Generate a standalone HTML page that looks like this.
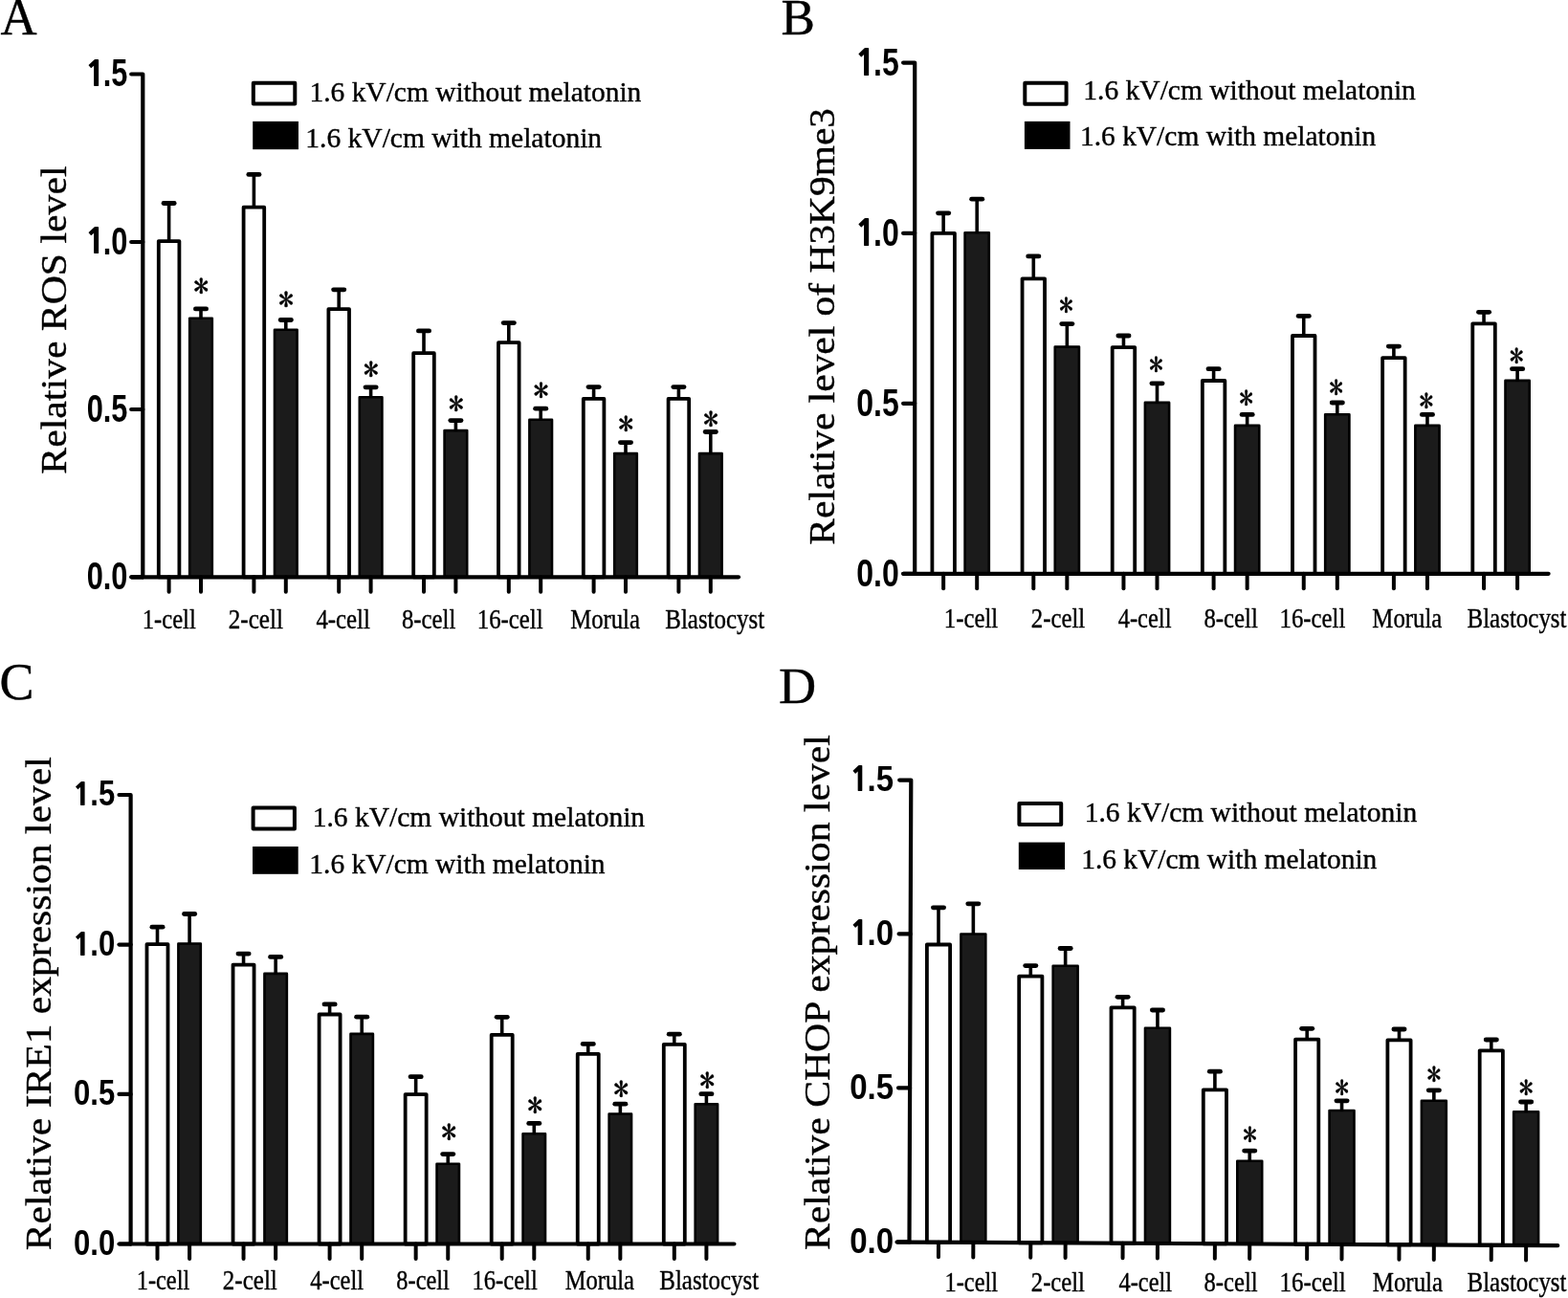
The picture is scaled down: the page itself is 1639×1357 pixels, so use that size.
<!DOCTYPE html>
<html><head><meta charset="utf-8"><title>Figure</title><style>
html,body{margin:0;padding:0;background:#fff;}
svg{display:block;}
.f1{font-family:"Liberation Serif","Times New Roman",serif;fill:#000;stroke:#000;stroke-width:0.4px;stroke-linejoin:round;}
.f2{font-family:"Liberation Sans",Arial,sans-serif;font-weight:bold;fill:#000;}
.f4{font-family:"NanumGothic","Liberation Sans",Arial,sans-serif;font-weight:800;fill:#000;}
.f5{font-family:"IPAGothic","Liberation Serif",serif;fill:#000;stroke:#000;stroke-width:0.5px;stroke-linejoin:round;}
.f3{font-family:"Liberation Sans",Arial,sans-serif;fill:#000;}
.bw{fill:#fff;stroke:#000;stroke-width:3.8;stroke-linejoin:round;}
.bb{fill:#1b1b1b;stroke:#000;stroke-width:2.6;stroke-linejoin:round;}
.eb{stroke:#000;stroke-width:3.6;}
.ec{stroke:#000;stroke-width:4.8;stroke-linecap:round;}
.xt{stroke:#000;stroke-width:4;stroke-linecap:round;}
.ax{fill:none;stroke:#000;stroke-width:4.2;stroke-linecap:round;stroke-linejoin:round;}
.lw{fill:#fff;stroke:#000;stroke-width:4;stroke-linejoin:round;}
.lb{fill:#000;}
</style></head>
<body><svg width="1639" height="1357" viewBox="0 0 1639 1357">
<rect width="1639" height="1357" fill="#fff"/>
<g id="panelA">
<text class="f1" transform="translate(0.57,36.3) scale(0.9782,1)" font-size="53.94">A</text>
<line x1="176.6" y1="252.2" x2="176.6" y2="212.5" class="eb"/>
<line x1="171" y1="212.5" x2="182.2" y2="212.5" class="ec"/>
<rect x="165.8" y="252.1" width="21.6" height="351.2" class="bw"/>
<line x1="176.6" y1="603.3" x2="176.6" y2="618.8" class="xt"/>
<line x1="210" y1="333.4" x2="210" y2="322.9" class="eb"/>
<line x1="204.4" y1="322.9" x2="215.6" y2="322.9" class="ec"/>
<rect x="198.2" y="332.7" width="23.6" height="270.6" class="bb"/>
<text class="f5" transform="translate(202.26,310.59) scale(0.9740,1)" font-size="33.00">*</text>
<line x1="210" y1="603.3" x2="210" y2="618.8" class="xt"/>
<line x1="265.4" y1="216.8" x2="265.4" y2="182.4" class="eb"/>
<line x1="259.8" y1="182.4" x2="271" y2="182.4" class="ec"/>
<rect x="254.6" y="216.7" width="21.6" height="386.6" class="bw"/>
<line x1="265.4" y1="603.3" x2="265.4" y2="618.8" class="xt"/>
<line x1="298.8" y1="345.5" x2="298.8" y2="334.5" class="eb"/>
<line x1="293.2" y1="334.5" x2="304.4" y2="334.5" class="ec"/>
<rect x="287" y="344.8" width="23.6" height="258.5" class="bb"/>
<text class="f5" transform="translate(291.06,324.69) scale(0.9740,1)" font-size="33.00">*</text>
<line x1="298.8" y1="603.3" x2="298.8" y2="618.8" class="xt"/>
<line x1="354.2" y1="323.2" x2="354.2" y2="302.8" class="eb"/>
<line x1="348.6" y1="302.8" x2="359.8" y2="302.8" class="ec"/>
<rect x="343.4" y="323.1" width="21.6" height="280.2" class="bw"/>
<line x1="354.2" y1="603.3" x2="354.2" y2="618.8" class="xt"/>
<line x1="387.6" y1="416" x2="387.6" y2="404.8" class="eb"/>
<line x1="382" y1="404.8" x2="393.2" y2="404.8" class="ec"/>
<rect x="375.8" y="415.3" width="23.6" height="188" class="bb"/>
<text class="f5" transform="translate(379.86,397.79) scale(0.9740,1)" font-size="33.00">*</text>
<line x1="387.6" y1="603.3" x2="387.6" y2="618.8" class="xt"/>
<line x1="443" y1="369.3" x2="443" y2="345.9" class="eb"/>
<line x1="437.4" y1="345.9" x2="448.6" y2="345.9" class="ec"/>
<rect x="432.2" y="369.2" width="21.6" height="234.1" class="bw"/>
<line x1="443" y1="603.3" x2="443" y2="618.8" class="xt"/>
<line x1="476.4" y1="450.8" x2="476.4" y2="439.6" class="eb"/>
<line x1="470.8" y1="439.6" x2="482" y2="439.6" class="ec"/>
<rect x="464.6" y="450.1" width="23.6" height="153.2" class="bb"/>
<text class="f5" transform="translate(468.66,433.59) scale(0.9740,1)" font-size="33.00">*</text>
<line x1="476.4" y1="603.3" x2="476.4" y2="618.8" class="xt"/>
<line x1="531.8" y1="358.3" x2="531.8" y2="337.6" class="eb"/>
<line x1="526.2" y1="337.6" x2="537.4" y2="337.6" class="ec"/>
<rect x="521" y="358.2" width="21.6" height="245.1" class="bw"/>
<line x1="531.8" y1="603.3" x2="531.8" y2="618.8" class="xt"/>
<line x1="565.2" y1="439.4" x2="565.2" y2="427.2" class="eb"/>
<line x1="559.6" y1="427.2" x2="570.8" y2="427.2" class="ec"/>
<rect x="553.4" y="438.7" width="23.6" height="164.6" class="bb"/>
<text class="f5" transform="translate(557.46,419.79) scale(0.9740,1)" font-size="33.00">*</text>
<line x1="565.2" y1="603.3" x2="565.2" y2="618.8" class="xt"/>
<line x1="620.6" y1="416.9" x2="620.6" y2="404.6" class="eb"/>
<line x1="615" y1="404.6" x2="626.2" y2="404.6" class="ec"/>
<rect x="609.8" y="416.8" width="21.6" height="186.5" class="bw"/>
<line x1="620.6" y1="603.3" x2="620.6" y2="618.8" class="xt"/>
<line x1="654" y1="474.8" x2="654" y2="462.6" class="eb"/>
<line x1="648.4" y1="462.6" x2="659.6" y2="462.6" class="ec"/>
<rect x="642.2" y="474.1" width="23.6" height="129.2" class="bb"/>
<text class="f5" transform="translate(646.26,455.19) scale(0.9740,1)" font-size="33.00">*</text>
<line x1="654" y1="603.3" x2="654" y2="618.8" class="xt"/>
<line x1="709.4" y1="416.9" x2="709.4" y2="404.6" class="eb"/>
<line x1="703.8" y1="404.6" x2="715" y2="404.6" class="ec"/>
<rect x="698.6" y="416.8" width="21.6" height="186.5" class="bw"/>
<line x1="709.4" y1="603.3" x2="709.4" y2="618.8" class="xt"/>
<line x1="742.8" y1="474.8" x2="742.8" y2="451.5" class="eb"/>
<line x1="737.2" y1="451.5" x2="748.4" y2="451.5" class="ec"/>
<rect x="731" y="474.1" width="23.6" height="129.2" class="bb"/>
<text class="f5" transform="translate(735.06,449.69) scale(0.9740,1)" font-size="33.00">*</text>
<line x1="742.8" y1="603.3" x2="742.8" y2="618.8" class="xt"/>
<path d="M137.2,77.5 L149.3,77.5 L149.3,603.3" class="ax"/>
<line x1="137.2" y1="253" x2="149.3" y2="253" class="ax"/>
<line x1="137.2" y1="428" x2="149.3" y2="428" class="ax"/>
<line x1="137.2" y1="603.3" x2="149.3" y2="603.3" class="ax"/>
<line x1="137.6" y1="603.3" x2="772" y2="603.3" class="ax"/>
<text class="f2" transform="translate(107.78,90) scale(0.7637,1)" font-size="40.28">.5</text>
<text class="f4" transform="translate(88.75,89.9) scale(1.0000,1)" font-size="36.67">1</text>
<text class="f2" transform="translate(107.78,265.5) scale(0.7637,1)" font-size="40.28">.0</text>
<text class="f4" transform="translate(88.75,265.4) scale(1.0000,1)" font-size="36.67">1</text>
<text class="f2" transform="translate(90.67,440.5) scale(0.7637,1)" font-size="40.28">0.5</text>
<text class="f2" transform="translate(90.67,615.8) scale(0.7637,1)" font-size="40.28">0.0</text>
<text class="f1" transform="translate(69,495.65) rotate(-90) scale(1.0746,1)" font-size="38.85">Relative ROS level</text>
<rect x="264.8" y="86.7" width="43.5" height="21.8" class="lw"/>
<rect x="264.2" y="126.9" width="47.8" height="29.3" class="lb"/>
<text class="f1" transform="translate(323.45,105.9) scale(0.9753,1)" font-size="30.22">1.6 kV/cm without melatonin</text>
<text class="f1" transform="translate(319.34,154.4) scale(0.9768,1)" font-size="30.22">1.6 kV/cm with melatonin</text>
<text class="f1" transform="translate(148.79,656.5) scale(0.8425,1)" font-size="29.21">1-cell</text>
<text class="f1" transform="translate(238.67,656.5) scale(0.8625,1)" font-size="29.21">2-cell</text>
<text class="f1" transform="translate(330.4,656.5) scale(0.8498,1)" font-size="29.21">4-cell</text>
<text class="f1" transform="translate(419.91,656.5) scale(0.8497,1)" font-size="29.21">8-cell</text>
<text class="f1" transform="translate(498.77,656.5) scale(0.8489,1)" font-size="29.21">16-cell</text>
<text class="f1" transform="translate(596.26,656.5) scale(0.8453,1)" font-size="29.21">Morula</text>
<text class="f1" transform="translate(695.25,656.5) scale(0.8547,1)" font-size="29.21">Blastocyst</text>
</g>
<g id="panelB">
<text class="f1" transform="translate(816.51,35.84) scale(1.0120,1)" font-size="52.42">B</text>
<line x1="986.15" y1="243.9" x2="986.15" y2="222.8" class="eb"/>
<line x1="980.55" y1="222.8" x2="991.75" y2="222.8" class="ec"/>
<rect x="974.4" y="243.8" width="23.5" height="356" class="bw"/>
<line x1="986.15" y1="599.8" x2="986.15" y2="615.3" class="xt"/>
<line x1="1021.2" y1="243.9" x2="1021.2" y2="208.2" class="eb"/>
<line x1="1015.6" y1="208.2" x2="1026.8" y2="208.2" class="ec"/>
<rect x="1008.6" y="243.2" width="25.2" height="356.6" class="bb"/>
<line x1="1021.2" y1="599.8" x2="1021.2" y2="615.3" class="xt"/>
<line x1="1080.3" y1="291.4" x2="1080.3" y2="267.9" class="eb"/>
<line x1="1074.7" y1="267.9" x2="1085.9" y2="267.9" class="ec"/>
<rect x="1068.55" y="291.3" width="23.5" height="308.5" class="bw"/>
<line x1="1080.3" y1="599.8" x2="1080.3" y2="615.3" class="xt"/>
<line x1="1115.35" y1="363.3" x2="1115.35" y2="338.6" class="eb"/>
<line x1="1109.75" y1="338.6" x2="1120.95" y2="338.6" class="ec"/>
<rect x="1102.75" y="362.6" width="25.2" height="237.2" class="bb"/>
<text class="f5" transform="translate(1106.91,330.57) scale(0.8858,1)" font-size="33.60">*</text>
<line x1="1115.35" y1="599.8" x2="1115.35" y2="615.3" class="xt"/>
<line x1="1174.45" y1="363.2" x2="1174.45" y2="351" class="eb"/>
<line x1="1168.85" y1="351" x2="1180.05" y2="351" class="ec"/>
<rect x="1162.7" y="363.1" width="23.5" height="236.7" class="bw"/>
<line x1="1174.45" y1="599.8" x2="1174.45" y2="615.3" class="xt"/>
<line x1="1209.5" y1="421.6" x2="1209.5" y2="400.8" class="eb"/>
<line x1="1203.9" y1="400.8" x2="1215.1" y2="400.8" class="ec"/>
<rect x="1196.9" y="420.9" width="25.2" height="178.9" class="bb"/>
<text class="f5" transform="translate(1201.06,393.17) scale(0.8858,1)" font-size="33.60">*</text>
<line x1="1209.5" y1="599.8" x2="1209.5" y2="615.3" class="xt"/>
<line x1="1268.6" y1="398.1" x2="1268.6" y2="385.7" class="eb"/>
<line x1="1263" y1="385.7" x2="1274.2" y2="385.7" class="ec"/>
<rect x="1256.85" y="398" width="23.5" height="201.8" class="bw"/>
<line x1="1268.6" y1="599.8" x2="1268.6" y2="615.3" class="xt"/>
<line x1="1303.65" y1="445.6" x2="1303.65" y2="433.4" class="eb"/>
<line x1="1298.05" y1="433.4" x2="1309.25" y2="433.4" class="ec"/>
<rect x="1291.05" y="444.9" width="25.2" height="154.9" class="bb"/>
<text class="f5" transform="translate(1295.21,427.77) scale(0.8858,1)" font-size="33.60">*</text>
<line x1="1303.65" y1="599.8" x2="1303.65" y2="615.3" class="xt"/>
<line x1="1362.75" y1="351.1" x2="1362.75" y2="330.4" class="eb"/>
<line x1="1357.15" y1="330.4" x2="1368.35" y2="330.4" class="ec"/>
<rect x="1351" y="351" width="23.5" height="248.8" class="bw"/>
<line x1="1362.75" y1="599.8" x2="1362.75" y2="615.3" class="xt"/>
<line x1="1397.8" y1="433.9" x2="1397.8" y2="421" class="eb"/>
<line x1="1392.2" y1="421" x2="1403.4" y2="421" class="ec"/>
<rect x="1385.2" y="433.2" width="25.2" height="166.6" class="bb"/>
<text class="f5" transform="translate(1389.36,416.87) scale(0.8858,1)" font-size="33.60">*</text>
<line x1="1397.8" y1="599.8" x2="1397.8" y2="615.3" class="xt"/>
<line x1="1456.9" y1="374.2" x2="1456.9" y2="362.1" class="eb"/>
<line x1="1451.3" y1="362.1" x2="1462.5" y2="362.1" class="ec"/>
<rect x="1445.15" y="374.1" width="23.5" height="225.7" class="bw"/>
<line x1="1456.9" y1="599.8" x2="1456.9" y2="615.3" class="xt"/>
<line x1="1491.95" y1="445.6" x2="1491.95" y2="433.4" class="eb"/>
<line x1="1486.35" y1="433.4" x2="1497.55" y2="433.4" class="ec"/>
<rect x="1479.35" y="444.9" width="25.2" height="154.9" class="bb"/>
<text class="f5" transform="translate(1483.51,431.47) scale(0.8858,1)" font-size="33.60">*</text>
<line x1="1491.95" y1="599.8" x2="1491.95" y2="615.3" class="xt"/>
<line x1="1551.05" y1="338.4" x2="1551.05" y2="326.3" class="eb"/>
<line x1="1545.45" y1="326.3" x2="1556.65" y2="326.3" class="ec"/>
<rect x="1539.3" y="338.3" width="23.5" height="261.5" class="bw"/>
<line x1="1551.05" y1="599.8" x2="1551.05" y2="615.3" class="xt"/>
<line x1="1586.1" y1="398.6" x2="1586.1" y2="385.7" class="eb"/>
<line x1="1580.5" y1="385.7" x2="1591.7" y2="385.7" class="ec"/>
<rect x="1573.5" y="397.9" width="25.2" height="201.9" class="bb"/>
<text class="f5" transform="translate(1577.66,384.47) scale(0.8858,1)" font-size="33.60">*</text>
<line x1="1586.1" y1="599.8" x2="1586.1" y2="615.3" class="xt"/>
<path d="M944.1,65.6 L956.2,65.6 L956.2,599.8" class="ax"/>
<line x1="944.1" y1="243.8" x2="956.2" y2="243.8" class="ax"/>
<line x1="944.1" y1="421.8" x2="956.2" y2="421.8" class="ax"/>
<line x1="944.1" y1="599.8" x2="956.2" y2="599.8" class="ax"/>
<line x1="944.4" y1="599.8" x2="1618.6" y2="599.8" class="ax"/>
<text class="f2" transform="translate(913.05,79.19) scale(0.7796,1)" font-size="41.13">.5</text>
<text class="f4" transform="translate(893.57,79.09) scale(1.0000,1)" font-size="37.44">1</text>
<text class="f2" transform="translate(913.05,257.39) scale(0.7796,1)" font-size="41.13">.0</text>
<text class="f4" transform="translate(893.57,257.29) scale(1.0000,1)" font-size="37.44">1</text>
<text class="f2" transform="translate(895.22,435.39) scale(0.7796,1)" font-size="41.13">0.5</text>
<text class="f2" transform="translate(895.22,613.39) scale(0.7796,1)" font-size="41.13">0.0</text>
<text class="f1" transform="translate(872,569.64) rotate(-90) scale(1.1025,1)" font-size="37.59">Relative level of H3K9me3</text>
<rect x="1071.3" y="86.8" width="43.3" height="22" class="lw"/>
<rect x="1070.9" y="126.9" width="47.6" height="29" class="lb"/>
<text class="f1" transform="translate(1132.34,103.7) scale(0.9770,1)" font-size="30.22">1.6 kV/cm without melatonin</text>
<text class="f1" transform="translate(1128.95,151.9) scale(0.9752,1)" font-size="30.22">1.6 kV/cm with melatonin</text>
<text class="f1" transform="translate(986.87,656.4) scale(0.8514,1)" font-size="29.06">1-cell</text>
<text class="f1" transform="translate(1077.78,656.4) scale(0.8528,1)" font-size="29.06">2-cell</text>
<text class="f1" transform="translate(1168.71,656.4) scale(0.8433,1)" font-size="29.06">4-cell</text>
<text class="f1" transform="translate(1258.41,656.4) scale(0.8524,1)" font-size="29.06">8-cell</text>
<text class="f1" transform="translate(1337.57,656.4) scale(0.8531,1)" font-size="29.06">16-cell</text>
<text class="f1" transform="translate(1434.36,656.4) scale(0.8530,1)" font-size="29.06">Morula</text>
<text class="f1" transform="translate(1533.55,656.4) scale(0.8589,1)" font-size="29.06">Blastocyst</text>
</g>
<g id="panelC">
<text class="f1" transform="translate(-0.56,730.66) scale(1.0029,1)" font-size="53.88">C</text>
<line x1="164.5" y1="987.2" x2="164.5" y2="969.2" class="eb"/>
<line x1="158.9" y1="969.2" x2="170.1" y2="969.2" class="ec"/>
<rect x="153.5" y="987.1" width="22" height="313.4" class="bw"/>
<line x1="164.5" y1="1300.5" x2="164.5" y2="1316" class="xt"/>
<line x1="198.1" y1="987.2" x2="198.1" y2="955.5" class="eb"/>
<line x1="192.5" y1="955.5" x2="203.7" y2="955.5" class="ec"/>
<rect x="186.4" y="986.5" width="23.4" height="314" class="bb"/>
<line x1="198.1" y1="1300.5" x2="198.1" y2="1316" class="xt"/>
<line x1="254.55" y1="1008.7" x2="254.55" y2="997.1" class="eb"/>
<line x1="248.95" y1="997.1" x2="260.15" y2="997.1" class="ec"/>
<rect x="243.55" y="1008.6" width="22" height="291.9" class="bw"/>
<line x1="254.55" y1="1300.5" x2="254.55" y2="1316" class="xt"/>
<line x1="288.15" y1="1018.6" x2="288.15" y2="1000.4" class="eb"/>
<line x1="282.55" y1="1000.4" x2="293.75" y2="1000.4" class="ec"/>
<rect x="276.45" y="1017.9" width="23.4" height="282.6" class="bb"/>
<line x1="288.15" y1="1300.5" x2="288.15" y2="1316" class="xt"/>
<line x1="344.6" y1="1060.6" x2="344.6" y2="1049.9" class="eb"/>
<line x1="339" y1="1049.9" x2="350.2" y2="1049.9" class="ec"/>
<rect x="333.6" y="1060.5" width="22" height="240" class="bw"/>
<line x1="344.6" y1="1300.5" x2="344.6" y2="1316" class="xt"/>
<line x1="378.2" y1="1081.6" x2="378.2" y2="1063.2" class="eb"/>
<line x1="372.6" y1="1063.2" x2="383.8" y2="1063.2" class="ec"/>
<rect x="366.5" y="1080.9" width="23.4" height="219.6" class="bb"/>
<line x1="378.2" y1="1300.5" x2="378.2" y2="1316" class="xt"/>
<line x1="434.65" y1="1144.2" x2="434.65" y2="1125.7" class="eb"/>
<line x1="429.05" y1="1125.7" x2="440.25" y2="1125.7" class="ec"/>
<rect x="423.65" y="1144.1" width="22" height="156.4" class="bw"/>
<line x1="434.65" y1="1300.5" x2="434.65" y2="1316" class="xt"/>
<line x1="468.25" y1="1217.5" x2="468.25" y2="1206.6" class="eb"/>
<line x1="462.65" y1="1206.6" x2="473.85" y2="1206.6" class="ec"/>
<rect x="456.55" y="1216.8" width="23.4" height="83.7" class="bb"/>
<text class="f5" transform="translate(461.21,1196.05) scale(0.9398,1)" font-size="34.20">*</text>
<line x1="468.25" y1="1300.5" x2="468.25" y2="1316" class="xt"/>
<line x1="524.7" y1="1081.9" x2="524.7" y2="1063.3" class="eb"/>
<line x1="519.1" y1="1063.3" x2="530.3" y2="1063.3" class="ec"/>
<rect x="513.7" y="1081.8" width="22" height="218.7" class="bw"/>
<line x1="524.7" y1="1300.5" x2="524.7" y2="1316" class="xt"/>
<line x1="558.3" y1="1185.9" x2="558.3" y2="1174.4" class="eb"/>
<line x1="552.7" y1="1174.4" x2="563.9" y2="1174.4" class="ec"/>
<rect x="546.6" y="1185.2" width="23.4" height="115.3" class="bb"/>
<text class="f5" transform="translate(551.26,1168.35) scale(0.9398,1)" font-size="34.20">*</text>
<line x1="558.3" y1="1300.5" x2="558.3" y2="1316" class="xt"/>
<line x1="614.75" y1="1101.9" x2="614.75" y2="1091.4" class="eb"/>
<line x1="609.15" y1="1091.4" x2="620.35" y2="1091.4" class="ec"/>
<rect x="603.75" y="1101.8" width="22" height="198.7" class="bw"/>
<line x1="614.75" y1="1300.5" x2="614.75" y2="1316" class="xt"/>
<line x1="648.35" y1="1165.2" x2="648.35" y2="1154.2" class="eb"/>
<line x1="642.75" y1="1154.2" x2="653.95" y2="1154.2" class="ec"/>
<rect x="636.65" y="1164.5" width="23.4" height="136" class="bb"/>
<text class="f5" transform="translate(641.31,1150.95) scale(0.9398,1)" font-size="34.20">*</text>
<line x1="648.35" y1="1300.5" x2="648.35" y2="1316" class="xt"/>
<line x1="704.8" y1="1091.9" x2="704.8" y2="1081.2" class="eb"/>
<line x1="699.2" y1="1081.2" x2="710.4" y2="1081.2" class="ec"/>
<rect x="693.8" y="1091.8" width="22" height="208.7" class="bw"/>
<line x1="704.8" y1="1300.5" x2="704.8" y2="1316" class="xt"/>
<line x1="738.4" y1="1154.9" x2="738.4" y2="1143.7" class="eb"/>
<line x1="732.8" y1="1143.7" x2="744" y2="1143.7" class="ec"/>
<rect x="726.7" y="1154.2" width="23.4" height="146.3" class="bb"/>
<text class="f5" transform="translate(731.36,1142.15) scale(0.9398,1)" font-size="34.20">*</text>
<line x1="738.4" y1="1300.5" x2="738.4" y2="1316" class="xt"/>
<path d="M124.5,831 L136.6,831 L136.6,1300.5" class="ax"/>
<line x1="124.5" y1="987.6" x2="136.6" y2="987.6" class="ax"/>
<line x1="124.5" y1="1143.9" x2="136.6" y2="1143.9" class="ax"/>
<line x1="124.5" y1="1300.5" x2="136.6" y2="1300.5" class="ax"/>
<line x1="125.1" y1="1300.5" x2="767.4" y2="1300.5" class="ax"/>
<text class="f2" transform="translate(94.34,842.18) scale(0.8452,1)" font-size="36.76">.5</text>
<text class="f4" transform="translate(75.59,842.08) scale(1.0000,1)" font-size="33.46">1</text>
<text class="f2" transform="translate(94.34,998.78) scale(0.8452,1)" font-size="36.76">.0</text>
<text class="f4" transform="translate(75.59,998.68) scale(1.0000,1)" font-size="33.46">1</text>
<text class="f2" transform="translate(77.06,1155.08) scale(0.8452,1)" font-size="36.76">0.5</text>
<text class="f2" transform="translate(77.06,1311.68) scale(0.8452,1)" font-size="36.76">0.0</text>
<text class="f1" transform="translate(53.1,1307.15) rotate(-90) scale(1.0782,1)" font-size="38.56">Relative IRE1 expression level</text>
<rect x="264.6" y="844.6" width="43.3" height="21.8" class="lw"/>
<rect x="264" y="885" width="47.7" height="28.8" class="lb"/>
<text class="f1" transform="translate(326.75,864) scale(0.9761,1)" font-size="30.22">1.6 kV/cm without melatonin</text>
<text class="f1" transform="translate(323.35,912.5) scale(0.9752,1)" font-size="30.22">1.6 kV/cm with melatonin</text>
<text class="f1" transform="translate(142.7,1347.6) scale(0.8362,1)" font-size="29.21">1-cell</text>
<text class="f1" transform="translate(232.87,1347.6) scale(0.8563,1)" font-size="29.21">2-cell</text>
<text class="f1" transform="translate(324.31,1347.6) scale(0.8391,1)" font-size="29.21">4-cell</text>
<text class="f1" transform="translate(414.32,1347.6) scale(0.8359,1)" font-size="29.21">8-cell</text>
<text class="f1" transform="translate(493.59,1347.6) scale(0.8399,1)" font-size="29.21">16-cell</text>
<text class="f1" transform="translate(590.66,1347.6) scale(0.8417,1)" font-size="29.21">Morula</text>
<text class="f1" transform="translate(689.25,1347.6) scale(0.8547,1)" font-size="29.21">Blastocyst</text>
</g>
<g id="panelD">
<text class="f1" transform="translate(813.98,735.4) scale(1.0193,1)" font-size="53.13">D</text>
<line x1="981" y1="987.6" x2="981" y2="948.8" class="eb"/>
<line x1="975.4" y1="948.8" x2="986.6" y2="948.8" class="ec"/>
<rect x="968.9" y="987.5" width="24.2" height="311.26" class="bw"/>
<line x1="981" y1="1298.76" x2="980.94" y2="1314.26" class="xt"/>
<line x1="1017.35" y1="977.2" x2="1017.35" y2="944.8" class="eb"/>
<line x1="1011.75" y1="944.8" x2="1022.95" y2="944.8" class="ec"/>
<rect x="1004.4" y="976.5" width="25.9" height="322.45" class="bb"/>
<line x1="1017.35" y1="1298.95" x2="1017.29" y2="1314.45" class="xt"/>
<line x1="1077.3" y1="1020.7" x2="1077.3" y2="1009.6" class="eb"/>
<line x1="1071.7" y1="1009.6" x2="1082.9" y2="1009.6" class="ec"/>
<rect x="1065.2" y="1020.6" width="24.2" height="278.66" class="bw"/>
<line x1="1077.3" y1="1299.26" x2="1077.24" y2="1314.76" class="xt"/>
<line x1="1113.65" y1="1010.4" x2="1113.65" y2="991.5" class="eb"/>
<line x1="1108.05" y1="991.5" x2="1119.25" y2="991.5" class="ec"/>
<rect x="1100.7" y="1009.7" width="25.9" height="289.75" class="bb"/>
<line x1="1113.65" y1="1299.45" x2="1113.59" y2="1314.95" class="xt"/>
<line x1="1173.6" y1="1053.5" x2="1173.6" y2="1042.3" class="eb"/>
<line x1="1168" y1="1042.3" x2="1179.2" y2="1042.3" class="ec"/>
<rect x="1161.5" y="1053.4" width="24.2" height="246.36" class="bw"/>
<line x1="1173.6" y1="1299.76" x2="1173.54" y2="1315.26" class="xt"/>
<line x1="1209.95" y1="1075.4" x2="1209.95" y2="1056" class="eb"/>
<line x1="1204.35" y1="1056" x2="1215.55" y2="1056" class="ec"/>
<rect x="1197" y="1074.7" width="25.9" height="225.25" class="bb"/>
<line x1="1209.95" y1="1299.95" x2="1209.89" y2="1315.45" class="xt"/>
<line x1="1269.9" y1="1139.5" x2="1269.9" y2="1120.2" class="eb"/>
<line x1="1264.3" y1="1120.2" x2="1275.5" y2="1120.2" class="ec"/>
<rect x="1257.8" y="1139.4" width="24.2" height="160.86" class="bw"/>
<line x1="1269.9" y1="1300.26" x2="1269.84" y2="1315.76" class="xt"/>
<line x1="1306.25" y1="1214.5" x2="1306.25" y2="1203.1" class="eb"/>
<line x1="1300.65" y1="1203.1" x2="1311.85" y2="1203.1" class="ec"/>
<rect x="1293.3" y="1213.8" width="25.9" height="86.65" class="bb"/>
<text class="f5" transform="translate(1298.91,1198.09) scale(0.9019,1)" font-size="33.00">*</text>
<line x1="1306.25" y1="1300.45" x2="1306.19" y2="1315.95" class="xt"/>
<line x1="1366.2" y1="1086.7" x2="1366.2" y2="1075.3" class="eb"/>
<line x1="1360.6" y1="1075.3" x2="1371.8" y2="1075.3" class="ec"/>
<rect x="1354.1" y="1086.6" width="24.2" height="214.16" class="bw"/>
<line x1="1366.2" y1="1300.76" x2="1366.14" y2="1316.26" class="xt"/>
<line x1="1402.55" y1="1161.7" x2="1402.55" y2="1150.8" class="eb"/>
<line x1="1396.95" y1="1150.8" x2="1408.15" y2="1150.8" class="ec"/>
<rect x="1389.6" y="1161" width="25.9" height="139.95" class="bb"/>
<text class="f5" transform="translate(1395.21,1148.89) scale(0.9019,1)" font-size="33.00">*</text>
<line x1="1402.55" y1="1300.95" x2="1402.49" y2="1316.45" class="xt"/>
<line x1="1462.5" y1="1087.5" x2="1462.5" y2="1076" class="eb"/>
<line x1="1456.9" y1="1076" x2="1468.1" y2="1076" class="ec"/>
<rect x="1450.4" y="1087.4" width="24.2" height="213.86" class="bw"/>
<line x1="1462.5" y1="1301.26" x2="1462.44" y2="1316.76" class="xt"/>
<line x1="1498.85" y1="1151.5" x2="1498.85" y2="1139.8" class="eb"/>
<line x1="1493.25" y1="1139.8" x2="1504.45" y2="1139.8" class="ec"/>
<rect x="1485.9" y="1150.8" width="25.9" height="150.65" class="bb"/>
<text class="f5" transform="translate(1491.51,1134.59) scale(0.9019,1)" font-size="33.00">*</text>
<line x1="1498.85" y1="1301.45" x2="1498.79" y2="1316.95" class="xt"/>
<line x1="1558.8" y1="1098.4" x2="1558.8" y2="1087" class="eb"/>
<line x1="1553.2" y1="1087" x2="1564.4" y2="1087" class="ec"/>
<rect x="1546.7" y="1098.3" width="24.2" height="203.46" class="bw"/>
<line x1="1558.8" y1="1301.76" x2="1558.74" y2="1317.26" class="xt"/>
<line x1="1595.15" y1="1162.9" x2="1595.15" y2="1152" class="eb"/>
<line x1="1589.55" y1="1152" x2="1600.75" y2="1152" class="ec"/>
<rect x="1582.2" y="1162.2" width="25.9" height="139.75" class="bb"/>
<text class="f5" transform="translate(1587.81,1149.29) scale(0.9019,1)" font-size="33.00">*</text>
<line x1="1595.15" y1="1301.95" x2="1595.09" y2="1317.45" class="xt"/>
<path d="M940.19,815.54 L952.29,815.6 L950.5,1298.6" class="ax"/>
<line x1="939.59" y1="976.34" x2="951.69" y2="976.4" class="ax"/>
<line x1="939" y1="1137.34" x2="951.1" y2="1137.4" class="ax"/>
<line x1="938.4" y1="1298.34" x2="950.5" y2="1298.4" class="ax"/>
<line x1="937.5" y1="1298.53" x2="1628.2" y2="1302.12" class="ax"/>
<text class="f2" transform="translate(906.56,827.38) scale(0.8856,1)" font-size="37.32">.5</text>
<text class="f4" transform="translate(887.93,827.28) scale(1.0000,1)" font-size="33.97">1</text>
<text class="f2" transform="translate(906.56,988.38) scale(0.8856,1)" font-size="37.32">.0</text>
<text class="f4" transform="translate(887.93,988.28) scale(1.0000,1)" font-size="33.97">1</text>
<text class="f2" transform="translate(888.18,1149.38) scale(0.8856,1)" font-size="37.32">0.5</text>
<text class="f2" transform="translate(888.18,1310.38) scale(0.8856,1)" font-size="37.32">0.0</text>
<text class="f1" transform="translate(867,1307.05) rotate(-90) scale(1.0893,1)" font-size="38.27">Relative CHOP expression level</text>
<rect x="1065.4" y="839.9" width="43.8" height="22" class="lw"/>
<rect x="1064.8" y="880.6" width="48.3" height="28.4" class="lb"/>
<text class="f1" transform="translate(1133.64,859) scale(0.9770,1)" font-size="30.22">1.6 kV/cm without melatonin</text>
<text class="f1" transform="translate(1130.15,907.5) scale(0.9752,1)" font-size="30.22">1.6 kV/cm with melatonin</text>
<text class="f1" transform="translate(987.5,1349.6) scale(0.8445,1)" font-size="28.92">1-cell</text>
<text class="f1" transform="translate(1077.79,1349.6) scale(0.8539,1)" font-size="28.92">2-cell</text>
<text class="f1" transform="translate(1169.51,1349.6) scale(0.8459,1)" font-size="28.92">4-cell</text>
<text class="f1" transform="translate(1258.51,1349.6) scale(0.8520,1)" font-size="28.92">8-cell</text>
<text class="f1" transform="translate(1337.56,1349.6) scale(0.8612,1)" font-size="28.92">16-cell</text>
<text class="f1" transform="translate(1434.75,1349.6) scale(0.8620,1)" font-size="28.92">Morula</text>
<text class="f1" transform="translate(1533.55,1349.6) scale(0.8632,1)" font-size="28.92">Blastocyst</text>
</g>
</svg></body></html>
